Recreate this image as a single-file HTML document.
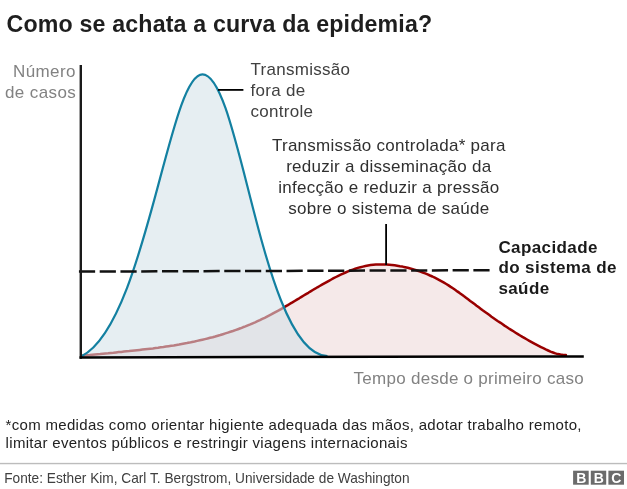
<!DOCTYPE html>
<html><head><meta charset="utf-8"><title>Como se achata a curva da epidemia?</title>
<style>
html,body{margin:0;padding:0;background:#fff}
svg{display:block}
text{font-family:"Liberation Sans",sans-serif}
.lbl{font-size:17px;letter-spacing:0.27px}
</style></head><body>
<svg width="627" height="489" viewBox="0 0 627 489">
<rect width="627" height="489" fill="#fff"/>
<text x="6.6" y="32.4" font-size="23.2" font-weight="bold" fill="#1e1e1e" letter-spacing="0.16">Como se achata a curva da epidemia?</text>

<!-- red curve -->
<path d="M81.8,355.9 L84.4,355.6 L87.1,355.3 L89.7,355.1 L92.3,354.8 L95.0,354.5 L97.6,354.2 L100.2,354.0 L102.8,353.7 L105.5,353.4 L108.1,353.2 L110.8,352.9 L113.4,352.7 L116.0,352.4 L118.7,352.1 L121.3,351.9 L123.9,351.6 L126.6,351.3 L129.2,351.1 L131.8,350.8 L134.5,350.5 L137.1,350.2 L139.7,349.9 L142.4,349.6 L145.0,349.3 L147.6,349.0 L150.3,348.7 L152.9,348.4 L155.5,348.0 L158.1,347.7 L160.8,347.3 L163.4,347.0 L166.0,346.6 L168.6,346.2 L171.2,345.8 L173.8,345.4 L176.5,344.9 L179.1,344.5 L181.7,344.0 L184.3,343.5 L186.9,343.1 L189.5,342.6 L192.1,342.0 L194.6,341.5 L197.2,340.9 L199.8,340.3 L202.4,339.7 L205.0,339.1 L207.5,338.5 L210.1,337.8 L212.7,337.2 L215.2,336.5 L217.8,335.7 L220.3,335.0 L222.9,334.2 L225.4,333.4 L227.9,332.6 L230.4,331.8 L232.9,331.0 L235.4,330.1 L237.9,329.2 L240.4,328.3 L242.9,327.3 L245.4,326.4 L247.8,325.4 L250.3,324.4 L252.7,323.3 L255.1,322.3 L257.5,321.2 L259.9,320.1 L262.3,318.9 L264.7,317.8 L267.0,316.6 L269.4,315.4 L271.7,314.2 L274.0,312.9 L276.4,311.6 L278.7,310.4 L281.0,309.1 L283.3,307.7 L285.5,306.4 L287.8,305.1 L290.1,303.7 L292.4,302.4 L294.7,301.0 L296.9,299.6 L299.2,298.3 L301.5,296.9 L303.7,295.5 L306.0,294.1 L308.3,292.8 L310.6,291.4 L312.8,290.0 L315.1,288.7 L317.4,287.3 L319.7,286.0 L322.0,284.7 L324.3,283.4 L326.6,282.1 L328.9,280.8 L331.3,279.5 L333.6,278.2 L336.0,277.0 L338.3,275.8 L340.7,274.7 L343.1,273.6 L345.5,272.5 L348.0,271.4 L350.4,270.5 L352.9,269.6 L355.3,268.7 L357.8,267.9 L360.4,267.2 L362.9,266.6 L365.4,266.0 L368.0,265.5 L370.6,265.1 L373.3,264.8 L375.9,264.6 L378.5,264.5 L381.2,264.5 L383.9,264.5 L386.5,264.6 L389.2,264.8 L391.9,265.0 L394.6,265.3 L397.2,265.7 L399.9,266.2 L402.5,266.6 L405.1,267.2 L407.7,267.8 L410.3,268.5 L412.8,269.2 L415.3,269.9 L417.8,270.7 L420.3,271.6 L422.8,272.5 L425.2,273.4 L427.6,274.4 L430.0,275.5 L432.4,276.5 L434.8,277.7 L437.1,278.9 L439.4,280.1 L441.7,281.4 L444.0,282.7 L446.3,284.0 L448.5,285.4 L450.7,286.9 L452.9,288.3 L455.1,289.8 L457.3,291.4 L459.5,292.9 L461.7,294.5 L463.8,296.1 L466.0,297.7 L468.1,299.3 L470.2,300.9 L472.4,302.5 L474.5,304.1 L476.6,305.7 L478.8,307.3 L480.9,308.9 L483.0,310.5 L485.1,312.0 L487.3,313.6 L489.4,315.1 L491.5,316.7 L493.7,318.2 L495.8,319.7 L498.0,321.2 L500.2,322.6 L502.3,324.1 L504.5,325.6 L506.7,327.0 L508.9,328.5 L511.1,329.9 L513.4,331.3 L515.6,332.7 L517.9,334.1 L520.1,335.5 L522.4,336.9 L524.7,338.2 L527.0,339.5 L529.3,340.8 L531.6,342.1 L533.9,343.4 L536.3,344.7 L538.6,345.9 L541.0,347.1 L543.3,348.2 L545.7,349.4 L548.1,350.5 L550.5,351.6 L553.0,352.5 L555.4,353.4 L557.9,354.1 L560.5,354.6 L563.2,355.0 L565.9,355.1 L566,357 L81,357 Z" fill="#f5e9e9"/>
<path d="M81.8,355.9 L84.4,355.6 L87.1,355.3 L89.7,355.1 L92.3,354.8 L95.0,354.5 L97.6,354.2 L100.2,354.0 L102.8,353.7 L105.5,353.4 L108.1,353.2 L110.8,352.9 L113.4,352.7 L116.0,352.4 L118.7,352.1 L121.3,351.9 L123.9,351.6 L126.6,351.3 L129.2,351.1 L131.8,350.8 L134.5,350.5 L137.1,350.2 L139.7,349.9 L142.4,349.6 L145.0,349.3 L147.6,349.0 L150.3,348.7 L152.9,348.4 L155.5,348.0 L158.1,347.7 L160.8,347.3 L163.4,347.0 L166.0,346.6 L168.6,346.2 L171.2,345.8 L173.8,345.4 L176.5,344.9 L179.1,344.5 L181.7,344.0 L184.3,343.5 L186.9,343.1 L189.5,342.6 L192.1,342.0 L194.6,341.5 L197.2,340.9 L199.8,340.3 L202.4,339.7 L205.0,339.1 L207.5,338.5 L210.1,337.8 L212.7,337.2 L215.2,336.5 L217.8,335.7 L220.3,335.0 L222.9,334.2 L225.4,333.4 L227.9,332.6 L230.4,331.8 L232.9,331.0 L235.4,330.1 L237.9,329.2 L240.4,328.3 L242.9,327.3 L245.4,326.4 L247.8,325.4 L250.3,324.4 L252.7,323.3 L255.1,322.3 L257.5,321.2 L259.9,320.1 L262.3,318.9 L264.7,317.8 L267.0,316.6 L269.4,315.4 L271.7,314.2 L274.0,312.9 L276.4,311.6 L278.7,310.4 L281.0,309.1 L283.3,307.7 L285.5,306.4 L287.8,305.1 L290.1,303.7 L292.4,302.4 L294.7,301.0 L296.9,299.6 L299.2,298.3 L301.5,296.9 L303.7,295.5 L306.0,294.1 L308.3,292.8 L310.6,291.4 L312.8,290.0 L315.1,288.7 L317.4,287.3 L319.7,286.0 L322.0,284.7 L324.3,283.4 L326.6,282.1 L328.9,280.8 L331.3,279.5 L333.6,278.2 L336.0,277.0 L338.3,275.8 L340.7,274.7 L343.1,273.6 L345.5,272.5 L348.0,271.4 L350.4,270.5 L352.9,269.6 L355.3,268.7 L357.8,267.9 L360.4,267.2 L362.9,266.6 L365.4,266.0 L368.0,265.5 L370.6,265.1 L373.3,264.8 L375.9,264.6 L378.5,264.5 L381.2,264.5 L383.9,264.5 L386.5,264.6 L389.2,264.8 L391.9,265.0 L394.6,265.3 L397.2,265.7 L399.9,266.2 L402.5,266.6 L405.1,267.2 L407.7,267.8 L410.3,268.5 L412.8,269.2 L415.3,269.9 L417.8,270.7 L420.3,271.6 L422.8,272.5 L425.2,273.4 L427.6,274.4 L430.0,275.5 L432.4,276.5 L434.8,277.7 L437.1,278.9 L439.4,280.1 L441.7,281.4 L444.0,282.7 L446.3,284.0 L448.5,285.4 L450.7,286.9 L452.9,288.3 L455.1,289.8 L457.3,291.4 L459.5,292.9 L461.7,294.5 L463.8,296.1 L466.0,297.7 L468.1,299.3 L470.2,300.9 L472.4,302.5 L474.5,304.1 L476.6,305.7 L478.8,307.3 L480.9,308.9 L483.0,310.5 L485.1,312.0 L487.3,313.6 L489.4,315.1 L491.5,316.7 L493.7,318.2 L495.8,319.7 L498.0,321.2 L500.2,322.6 L502.3,324.1 L504.5,325.6 L506.7,327.0 L508.9,328.5 L511.1,329.9 L513.4,331.3 L515.6,332.7 L517.9,334.1 L520.1,335.5 L522.4,336.9 L524.7,338.2 L527.0,339.5 L529.3,340.8 L531.6,342.1 L533.9,343.4 L536.3,344.7 L538.6,345.9 L541.0,347.1 L543.3,348.2 L545.7,349.4 L548.1,350.5 L550.5,351.6 L553.0,352.5 L555.4,353.4 L557.9,354.1 L560.5,354.6 L563.2,355.0 L565.9,355.1" fill="none" stroke="#990000" stroke-width="2.5" stroke-linejoin="round" stroke-linecap="round"/>
<!-- blue curve -->
<path d="M81.5,356.2C145.84,323.87 168.63,74.29 202.46,74.29C240.61,74.29 261.49,353.65 327.5,356.2 L327,357 L81,357 Z" fill="rgb(210,225,232)" fill-opacity="0.56"/>
<path d="M81.5,356.2C145.84,323.87 168.63,74.29 202.46,74.29C240.61,74.29 261.49,353.65 327.5,356.2" fill="none" stroke="#1380a1" stroke-width="2.2" stroke-linejoin="round"/>

<!-- dashed capacity line -->
<line x1="78.94" y1="271.6" x2="489.6" y2="270.2" stroke="#111" stroke-width="2.5" stroke-dasharray="16.2 4.56"/>
<!-- axes -->
<line x1="80.8" y1="65" x2="80.8" y2="358.7" stroke="#1a1a1a" stroke-width="2.4"/>
<line x1="79.5" y1="357.5" x2="583.8" y2="356.4" stroke="#000" stroke-width="2.5"/>
<!-- leaders -->
<line x1="218" y1="89.9" x2="243.4" y2="89.9" stroke="#000" stroke-width="1.8"/>
<line x1="386.1" y1="224" x2="386.1" y2="265" stroke="#000" stroke-width="1.8"/>

<g class="lbl" fill="#828282" text-anchor="end" style="letter-spacing:0.4px">
<text x="75.9" y="76.5">Número</text>
<text x="76.2" y="97.6">de casos</text>
</g>
<g class="lbl" fill="#404040">
<text x="250.6" y="74.9">Transmissão</text>
<text x="250.6" y="95.9">fora de</text>
<text x="250.6" y="116.6">controle</text>
</g>
<g class="lbl" fill="#303030" text-anchor="middle">
<text x="388.8" y="150.9">Transmissão controlada* para</text>
<text x="388.8" y="171.7">reduzir a disseminação da</text>
<text x="388.8" y="193">infecção e reduzir a pressão</text>
<text x="388.8" y="214.2">sobre o sistema de saúde</text>
</g>
<g class="lbl" fill="#1a1a1a" font-weight="bold" style="letter-spacing:0.4px">
<text x="498.4" y="253.3">Capacidade</text>
<text x="498.4" y="273.4">do sistema de</text>
<text x="498.4" y="293.8">saúde</text>
</g>
<text class="lbl" x="353.6" y="383.8" fill="#828282">Tempo desde o primeiro caso</text>

<g font-size="15" fill="#222" letter-spacing="0.31">
<text x="5.6" y="430">*com medidas como orientar higiente adequada das mãos, adotar trabalho remoto,</text>
<text x="5.6" y="448.1">limitar eventos públicos e restringir viagens internacionais</text>
</g>
<rect x="0" y="462.85" width="627" height="1.4" fill="#bcbcbc"/>
<text transform="translate(4.2,482.8) scale(1,1.09)" font-size="13.7" fill="#404040">Fonte: Esther Kim, Carl T. Bergstrom, Universidade de Washington</text>

<!-- BBC -->
<g>
<rect x="573.1" y="470.7" width="15.6" height="14" fill="#6b6b6b"/>
<rect x="590.8" y="470.7" width="15.4" height="14" fill="#6b6b6b"/>
<rect x="608.4" y="470.7" width="15.6" height="14" fill="#6b6b6b"/>
<g font-size="14" font-weight="bold" fill="#fff" text-anchor="middle">
<text x="581.2" y="482.6">B</text>
<text x="598.8" y="482.6">B</text>
<text x="616.4" y="482.6">C</text>
</g>
</g>
</svg>
</body></html>
